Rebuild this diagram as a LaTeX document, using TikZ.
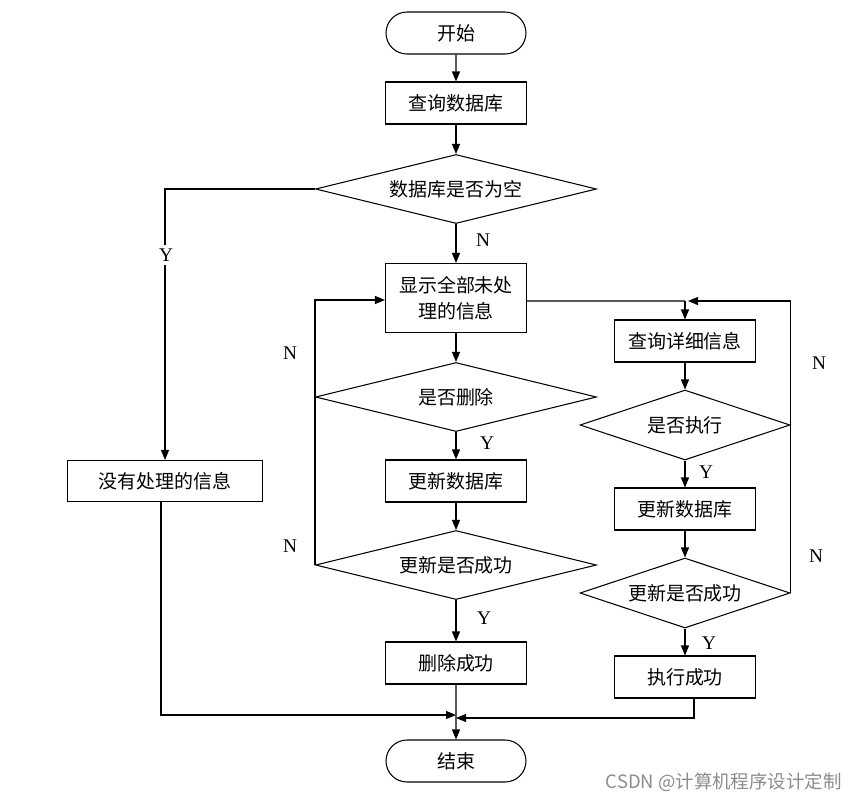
\documentclass[tikz,border=0pt]{standalone}
\usepackage{fontspec}
\setmainfont{Liberation Serif}
\newfontfamily\cjk{Noto Sans CJK SC}
\usetikzlibrary{shapes.geometric,shapes.misc,arrows.meta}
\begin{document}
\begin{tikzpicture}[x=0.02cm,y=-0.02cm,
  every node/.style={font=\cjk\fontsize{10.8}{15}\selectfont},
  line/.style={line width=0.6pt,draw=black},
  arr/.style={line, -{Triangle[length=0.2cm,width=0.16cm]}},
  boxn/.style={draw, line width=0.6pt, rectangle, minimum width=2.82cm, minimum height=0.84cm, inner sep=0pt},
  term/.style={draw, line width=0.6pt, rounded rectangle, minimum width=2.8cm, minimum height=0.84cm, inner sep=0pt},
  dia/.style={draw, line width=0.6pt, diamond, aspect=4.07, minimum width=5.62cm, minimum height=1.38cm, inner sep=0pt},
  dias/.style={draw, line width=0.6pt, diamond, aspect=3, minimum width=4.2cm, minimum height=1.4cm, inner sep=0pt},
  lbl/.style={font=\fontsize{11}{13}\selectfont, inner sep=1pt}
]
\useasboundingbox (0,0) rectangle (856,802);

\node[term] (start) at (456,33) {开始};
\node[boxn] (q) at (456,103) {查询数据库};
\node[dia] (d1) at (456,189) {数据库是否为空};
\node[boxn, minimum height=1.38cm, align=center] (show) at (456,298) {显示全部未处\\理的信息};
\node[dia] (d2) at (456,397) {是否删除};
\node[boxn] (u1) at (456,481) {更新数据库};
\node[dia] (d3) at (456,565) {更新是否成功};
\node[boxn] (ok1) at (456,663) {删除成功};
\node[term] (end) at (456,761) {结束};
\node[boxn, minimum width=3.9cm, minimum height=0.82cm] (none) at (165,481) {没有处理的信息};
\node[boxn] (det) at (685,341) {查询详细信息};
\node[dias] (dx) at (685,425) {是否执行};
\node[boxn] (u2) at (685,509) {更新数据库};
\node[dias] (ds) at (685,593) {更新是否成功};
\node[boxn] (ok2) at (685,677) {执行成功};

\coordinate (j1) at (688,301);
\coordinate (j0) at (685,301);
\coordinate (m1) at (456,715);
\coordinate (m2) at (456,718);

\draw[arr] (start) -- (q);
\draw[arr] (q) -- (d1);
\draw[arr] (d1) -- (show);
\node[lbl] (ln1) at (483,240) {N};
\draw[arr] (d1.west) -| (none.north);
\node[lbl, fill=white, inner sep=2pt] (yl) at (166,255) {Y};
\draw[arr] (show) -- (d2);
\draw[arr] (d2) -- (u1);
\node[lbl] (ly1) at (487,443) {Y};
\draw[arr] (d2.west) |- ([yshift=-0.04cm]show.west);
\node[lbl] (n1) at (290,353) {N};
\draw[line] (d3.west) -- (d2.west);
\node[lbl] (n2) at (290,546) {N};
\draw[arr] (u1) -- (d3);
\draw[arr] (d3) -- (ok1);
\node[lbl] (ly2) at (484,618) {Y};
\draw[arr] (ok1) -- (end);
\draw[arr] ([xshift=-0.08cm]none.south) |- (m1);
\draw[arr] ([xshift=0.18cm]ok2.south) |- (m2);

\draw[line] ([yshift=-0.06cm]show.east) -- (j0);
\draw[arr] (j0) -- (det);
\draw[arr] (dx.east) |- (j1);
\node[lbl] (n3) at (819,363) {N};
\draw[line] (ds.east) -- (dx.east);
\node[lbl] (n4) at (816,556) {N};
\draw[arr] (det) -- (dx);
\draw[arr] (dx) -- (u2);
\node[lbl] (ly3) at (706,472) {Y};
\draw[arr] (u2) -- (ds);
\draw[arr] (ds) -- (ok2);
\node[lbl] (ly4) at (709,643) {Y};

\node[font=\cjk\fontsize{10.5}{12}\selectfont, text=black!45, anchor=east, inner sep=0pt] (wm) at (842,782) {CSDN @计算机程序设计定制};
\end{tikzpicture}
\end{document}
